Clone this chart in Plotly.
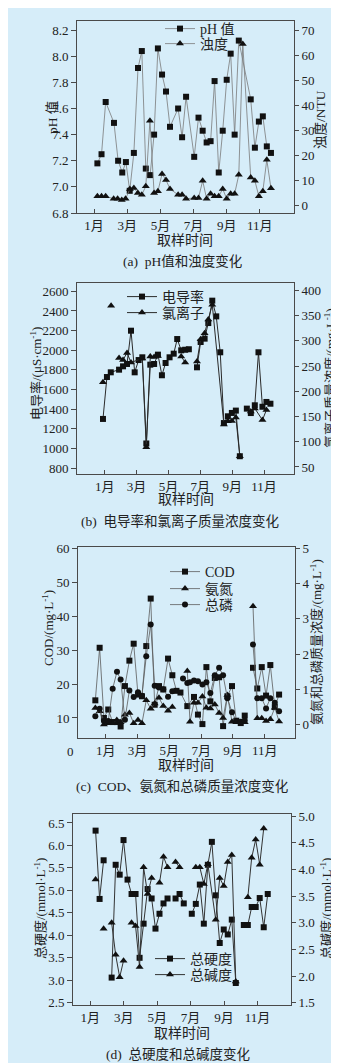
import plotly.graph_objects as go

W, H = 339, 1063
BG = "#d6edf9"
FONT = "Liberation Serif, Noto Sans CJK SC, serif"
AXC = "#4a4a4a"

tick_months = [1, 3, 5, 7, 9, 11]
tick_labels = ["1月", "3月", "5月", "7月", "9月", "11月"]

# ---------- (a) pH and turbidity ----------
ph_month = [1.2, 1.45, 1.7, 2.2, 2.45, 2.7, 2.92, 3.15, 3.4, 3.65, 3.88, 4.12, 4.38, 4.62, 4.85,
            5.1, 5.34, 5.58, 6.07, 6.31, 6.55, 7.04, 7.3, 7.55, 7.79, 8.03, 8.27, 8.52, 8.76,
            9.0, 9.24, 9.48, 9.73, 10.45, 10.7, 10.94, 11.18, 11.42, 11.67]
ph_value = [7.18, 7.25, 7.65, 7.49, 7.20, 7.11, 7.19, 6.97, 7.26, 7.91, 8.04, 7.14, 7.09, 7.40, 8.06,
            7.86, 7.73, 7.46, 7.60, 7.38, 7.69, 7.23, 7.53, 7.43, 7.34, 7.35, 7.81, 7.11, 7.43,
            7.82, 8.02, 7.40, 8.12, 7.67, 7.30, 7.50, 7.54, 7.31, 7.26]
turb_month = [1.2, 1.45, 1.7, 2.18, 2.42, 2.67, 2.9, 3.16, 3.4, 3.64, 3.88, 4.12, 4.37, 4.62, 4.85,
              5.1, 5.34, 5.58, 6.07, 6.31, 6.55, 7.04, 7.3, 7.55, 7.79, 8.03, 8.27, 8.52, 8.76,
              9.0, 9.24, 9.48, 9.73, 9.97, 10.45, 10.7, 10.94, 11.18, 11.42, 11.67]
turb_value = [3.5, 3.5, 3.5, 2.5, 2.5, 2.0, 2.5, 6.4, 6.8, 4.8, 4.1, 7.5, 33.7, 4.8, 5.5,
              12.4, 10.0, 6.4, 4.1, 4.1, 2.5, 2.8, 2.8, 9.7, 2.5, 4.5, 3.5, 3.5, 6.4,
              2.5, 4.5, 4.5, 12.1, 64.4, 11.0, 9.7, 3.5, 5.5, 18.1, 6.7]

# ---------- (b) conductivity and chloride ----------
cond_month = [0.89, 1.14, 1.38, 1.9, 2.15, 2.4, 2.65, 2.88, 3.13, 3.36, 3.61, 3.86, 4.1, 4.34, 4.59,
              4.82, 5.07, 5.33, 5.55, 5.8, 6.05, 6.28, None, 6.79, 7.02, 7.27, 7.5, 7.75, 8.0,
              8.25, 8.48, 8.73, 8.98, 9.23, 9.48, None, 9.92, 10.17, 10.42, 10.65, 10.9, 11.15, 11.4]
cond_value = [1300, 1727, 1775, 1802, 1836, 1860, 2199, 1775, 1900, 1928, 1050, 1853, 1860, 1955, 1745,
              1870, 1928, 1965, 2114, 1999, 2005, 2010, None, 1826, 2084, 2118, 2277, 2505, 2345,
              1979, 1258, 1327, 1361, 1385, 920, None, 1405, 1360, 1439, 1979, 1424, 1473, 1455]
cl_month = [0.89, None, 1.4, None, 1.9, 2.15, 2.4, 2.65, 3.36, 3.61, 3.86, 4.1, 4.34, None, 5.8, 6.05,
            None, 6.79, 7.02, 7.27, 7.5, 7.75, 8.48, 8.73, 8.98, 9.23, 9.48, None, 10.17, 10.42, 10.9, 11.15]
cl_value = [218, None, 369.5, None, 266, 262, 276, 257, 265, 89, 269, 268, 270, None, 269, 257,
            None, 259, 303, 315, 342, 371.5, 134, 140.6, 141, 148, 71, None, 160, 166, 143, 163]

# ---------- (c) COD, ammonia nitrogen, total phosphorus ----------
cod_month = [0.35, 0.62, 0.89, 1.16, 1.44, 1.7, 1.94, 2.21, 2.49, 2.76, 3.03, 3.28, 3.55, 3.83, 4.08,
             4.35, 4.62, 4.92, 5.19, 5.45, 5.7, 6.13, 6.55, 6.8, 7.08, 7.33, 7.58, 7.86, 8.13,
             8.38, 8.65, 8.94, 9.21, 9.49, 9.74, None, 10.26, 10.53, 10.81, 11.08, 11.35, 11.63, 11.9]
cod_value = [15.2, 30.7, 10.0, 12.5, 8.8, 8.8, 7.5, 19.4, 26.9, 31.9, 16.9, 16.4, 31.2, 45.2, 13.9,
             19.4, 18.4, 27.5, 22.6, 18.0, 17.5, 13.5, 16.2, 11.0, 8.2, 25.0, 14.9, 21.8, 22.0,
             7.6, 16.4, 19.4, 9.2, 8.5, 10.7, None, 24.8, 18.7, 25.0, 16.6, 25.6, 13.2, 16.9]
nh_month = [0.35, 0.62, 0.89, 1.16, 1.44, 1.7, 1.94, 2.21, 2.49, 2.76, 3.03, 3.28, 3.55, 3.83, 4.08,
            4.35, 4.62, 4.92, 5.19, None, 6.13, 6.3, 6.55, 6.8, 7.08, 7.33, 7.58, 7.86, 8.13, 8.38,
            8.65, 8.94, 9.21, 9.49, 9.74, None, 10.26, 10.53, 10.81, 11.08, 11.35, 11.63, 11.9]
nh_value = [0.47, 0.38, 0.0, 0.04, 0.04, 0.13, 0.07, 0.28, 0.33, 0.04, 0.13, 0.04, 0.69, 0.45, 0.6,
            0.76, 0.53, 0.39, 0.5, None, 1.52, 0.08, 0.62, 0.62, 0.8, 0.48, 0.46, 0.57, 0.33, 0.19,
            0.84, 0.08, 0.07, 0.07, 0.07, None, 3.36, 0.18, 0.18, 0.1, 0.15, 0.48, 0.09]
tp_month = [0.35, 0.62, 0.89, 1.16, 1.44, 1.71, 1.94, 2.21, 2.49, 2.76, 3.03, 3.28, 3.55, 3.83, 4.08,
            4.35, 4.62, 4.92, 5.19, None, 5.86, 6.13, 6.3, 6.55, 6.8, 7.08, 7.33, 7.58, 7.86, 8.13,
            8.38, 8.65, 8.94, 9.21, 9.49, 9.74, None, 10.26, 10.53, 10.81, 11.08, 11.35, 11.63, 11.9]
tp_value = [0.24, 0.45, 0.1, 0.1, 1.02, 1.5, 1.28, 0.14, 0.97, 0.78, 0.92, 0.82, 1.94, 2.84, 1.1,
            1.05, 1.0, 0.79, 0.95, None, 1.31, 1.18, 1.2, 1.25, 1.23, 1.14, 1.2, 0.9, 1.4, 1.61,
            1.4, 0.75, 0.35, 0.1, 0.08, 0.12, None, 2.27, 0.75, 0.75, 0.46, 0.75, 0.62, 0.38]

# ---------- (d) total hardness and total alkalinity ----------
hard_month = [1.32, 1.56, 1.8, None, 2.28, 2.52, 2.76, 2.99, 3.23, 3.47, 3.71, 3.95, 4.19, 4.43, 4.67,
              4.9, 5.14, 5.38, 5.62, None, 6.1, 6.34, 6.59, None, 7.07, 7.31, 7.55, 7.79, 8.03, 8.27,
              8.5, 8.74, 8.98, 9.22, 9.46, 9.7, None, 10.18, 10.42, 10.65, 10.89, 11.13, 11.37, 11.61]
hard_value = [6.33, 4.81, 5.67, None, 3.06, 5.57, 5.35, 6.12, 5.24, 4.92, 4.92, 3.5, 4.26, 5.03, 4.82,
              4.15, 4.48, 4.71, 4.82, None, 4.82, 4.92, 4.71, None, 4.48, 4.7, 5.13, 4.26, 5.57, 6.08,
              4.89, 3.83, 4.13, 4.02, 4.35, 2.94, None, 4.23, 4.23, 4.63, 4.63, 4.83, 4.18, 4.92]
alk_month = [1.32, None, 1.8, None, 2.28, 2.52, 2.76, 2.99, None, 3.47, 3.71, 3.95, 4.19, 4.43, 4.67,
             None, 5.14, 5.38, 5.62, None, 6.1, 6.34, None, 7.31, 7.55, 7.79, 8.03, 8.5, 8.74, 8.98,
             9.22, 9.46, 9.7, None, 10.42, 10.65, 10.89, 11.13, 11.37]
alk_value = [3.81, None, 2.89, None, 3.0, 2.40, 1.98, 2.29, None, 3.0, 2.94, 2.17, 4.04, 3.54, 3.84,
             None, 3.75, 4.24, 4.04, None, 4.14, 4.04, None, 4.04, 4.04, 3.73, 4.1, 3.06, 3.84, 3.69,
             4.14, 4.27, 1.9, None, 3.48, 4.22, 4.56, 4.09, 4.77]


def fx(px):
    return px / W


def fy(py):
    return 1 - py / H


fig = go.Figure()

# (trace, legend text position in px: text-left x, centre y)
legend_pos = []


def add(xs, ys, name, xa, ya, symbol, size, lcol, lw, tx, ty):
    key = "legend" if not legend_pos else "legend%d" % (len(legend_pos) + 1)
    legend_pos.append((key, tx, ty))
    fig.add_trace(go.Scatter(
        x=xs, y=ys, name=name, xaxis=xa, yaxis=ya, mode="lines+markers",
        line=dict(color=lcol, width=lw),
        marker=dict(symbol=symbol, size=size, color="#111111"),
        legend=key, connectgaps=False))


add(ph_month, ph_value, "pH 值", "x", "y", "square", 6, "#7a7a7a", 0.8, 193, 21)
add(turb_month, turb_value, "浊度", "x", "y2", "triangle-up", 7, "#7a7a7a", 0.8, 193, 36)
add(cond_month, cond_value, "电导率", "x2", "y3", "square", 6, "#2a2a2a", 1, 155, 289)
add(cl_month, cl_value, "氯离子", "x2", "y4", "triangle-up", 7, "#2a2a2a", 1, 155, 305)
add(cod_month, cod_value, "COD", "x3", "y5", "square", 6, "#5a5a5a", 0.8, 198, 564)
add(nh_month, nh_value, "氨氮", "x3", "y6", "triangle-up", 7, "#5a5a5a", 0.8, 198, 581)
add(tp_month, tp_value, "总磷", "x3", "y6", "circle", 6, "#5a5a5a", 0.8, 198, 597)
add(hard_month, hard_value, "总硬度", "x4", "y7", "square", 6, "#333333", 1, 183, 951)
add(alk_month, alk_value, "总碱度", "x4", "y8", "triangle-up", 7, "#333333", 1, 183, 967)

tickfont = dict(family=FONT, size=13, color="#222")

panels = [
    dict(l=69, r=286, t=13, b=205, xr=[-0.03, 13.06], yl=[6.8, 8.27], yr=[-3.2, 73.6],
         lt=[6.8, 7.0, 7.2, 7.4, 7.6, 7.8, 8.0, 8.2], rt=[0, 10, 20, 30, 40, 50, 60, 70], lf=".1f", rf="d"),
    dict(l=69, r=286, t=275, b=466, xr=[-0.74, 12.88], yl=[739, 2685], yr=[36, 414.5],
         lt=list(range(800, 2601, 200)), rt=list(range(50, 401, 50)), lf="d", rf="d"),
    dict(l=70, r=287, t=539, b=730, xr=[-0.74, 12.9], yl=[4.1, 60.4], yr=[-0.38, 5.04],
         lt=[10, 20, 30, 40, 50, 60], rt=[0, 1, 2, 3, 4, 5], lf="d", rf="d"),
    dict(l=65, r=283, t=806, b=997, xr=[-0.03, 13.0], yl=[2.45, 6.7], yr=[1.46, 5.04],
         lt=[2.5, 3.0, 3.5, 4.0, 4.5, 5.0, 5.5, 6.0, 6.5], rt=[1.5, 2.0, 2.5, 3.0, 3.5, 4.0, 4.5, 5.0],
         lf=".1f", rf=".1f"),
]

layout = dict(width=W, height=H, margin=dict(l=0, r=0, t=0, b=0, pad=0, autoexpand=False),
              paper_bgcolor=BG, plot_bgcolor=BG, showlegend=True,
              font=dict(family=FONT, size=13, color="#222"))

for i, p in enumerate(panels):
    xi = "" if i == 0 else str(i + 1)
    yl = "" if i == 0 else str(2 * i + 1)
    yr = str(2 * i + 2)
    xdom = [fx(p["l"]), fx(p["r"])]
    ydom = [fy(p["b"]), fy(p["t"])]
    layout["xaxis" + xi] = dict(
        domain=xdom, range=p["xr"], anchor="y" + yl, tickvals=tick_months, ticktext=tick_labels,
        ticks="inside", ticklen=4, tickcolor=AXC, showline=True, linecolor=AXC, linewidth=1,
        mirror=True, showgrid=False, zeroline=False, tickfont=tickfont, fixedrange=True,
        automargin=False)
    layout["yaxis" + yl] = dict(
        domain=ydom, range=p["yl"], anchor="x" + xi, tickvals=p["lt"], tickformat=p["lf"],
        ticks="outside", ticklen=5, tickcolor=AXC, showline=True, linecolor=AXC, linewidth=1,
        showgrid=False, zeroline=False, tickfont=tickfont, fixedrange=True, automargin=False)
    layout["yaxis" + yr] = dict(
        domain=ydom, range=p["yr"], anchor="x" + xi, overlaying="y" + yl, side="right",
        tickvals=p["rt"], tickformat=p["rf"],
        ticks="outside", ticklen=4, tickcolor=AXC, showline=True, linecolor=AXC, linewidth=1,
        showgrid=False, zeroline=False, tickfont=tickfont, fixedrange=True, automargin=False)

legfont = dict(family=FONT, size=14, color="#222")
for key, tx, ty in legend_pos:
    layout[key] = dict(x=fx(tx - 41), y=fy(ty), xanchor="left", yanchor="middle",
                       bgcolor="rgba(0,0,0,0)", borderwidth=0, font=legfont, itemwidth=30)

fig.update_layout(**layout)

ann = []


def text(s, px, py, size=13.5, angle=0, xanchor="center"):
    ann.append(dict(text=s, x=fx(px), y=fy(py), xref="paper", yref="paper", showarrow=False,
                    textangle=angle, xanchor=xanchor, yanchor="middle",
                    font=dict(family=FONT, size=size, color="#222")))


# y-axis titles
text("pH 值", 44, 110, angle=-90)
text("浊度/NTU", 312, 112, angle=-90)
text("电导率/(μS·cm<sup>-1</sup>)", 28, 366, size=13, angle=-90)
text("氯离子质量浓度/(mg·L<sup>-1</sup>)", 322, 370, size=13, angle=-90)
text("COD/(mg·L<sup>-1</sup>)", 40, 620, size=13, angle=-90)
text("氨氮和总磷质量浓度/(mg·L<sup>-1</sup>)", 308, 634, size=13, angle=-90)
text("总硬度/(mmol·L<sup>-1</sup>)", 32, 901, size=13, angle=-90)
text("总碱度/(mmol·L<sup>-1</sup>)", 318, 901, size=13, angle=-90)
# x-axis titles
text("取样时间", 177, 233, size=14)
text("取样时间", 178, 492, size=14)
text("取样时间", 178, 757, size=14)
text("取样时间", 174, 1025, size=14)
# captions
text("(a)  pH值和浊度变化", 175, 253, size=13.5)
text("(b)  电导率和氯离子质量浓度变化", 172, 513, size=13.5)
text("(c)  COD、氨氮和总磷质量浓度变化", 174, 778, size=13.5)
text("(d)  总硬度和总碱度变化", 170, 1046, size=13.5)
# stray zero label under panel (c)
text("0", 68, 743, size=13, xanchor="right")

fig.update_layout(annotations=ann)
fig.write_html("out.html")
